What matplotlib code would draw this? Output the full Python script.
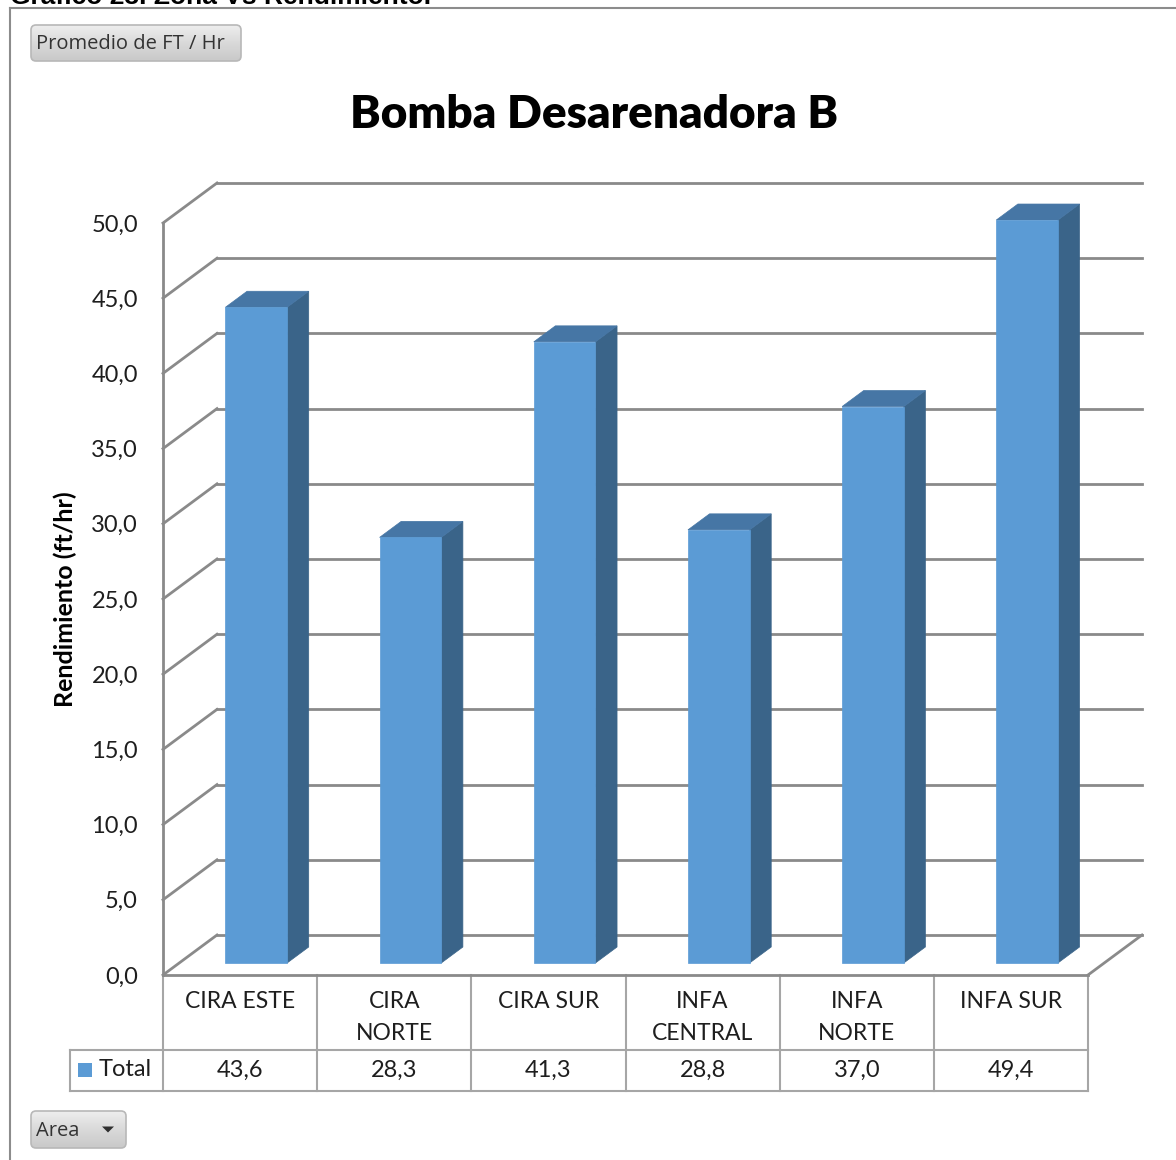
import textwrap
import numpy as np
import matplotlib.pyplot as plt
from matplotlib.colors import LinearSegmentedColormap
from matplotlib.patches import Polygon, FancyBboxPatch, Rectangle
from matplotlib.transforms import blended_transform_factory

plt.rcParams['font.family'] = ['Lato', 'DejaVu Sans']

# datos de la tabla dinámica
zonas = ['CIRA ESTE', 'CIRA NORTE', 'CIRA SUR', 'INFA CENTRAL', 'INFA NORTE', 'INFA SUR']
rendimiento = [43.6, 28.3, 41.3, 28.8, 37.0, 49.4]
ticks_y = [0, 5, 10, 15, 20, 25, 30, 35, 40, 45, 50]

c_frente = '#5b9bd5'
c_lado = '#3a6489'
c_tapa = '#4676a5'
c_grid = '#8a8a8a'
c_tabla = '#a6a6a6'
c_texto = '#1e1e1e'

W, H = 1176, 1160
fig = plt.figure(figsize=(W / 100, H / 100), dpi=100)

# capa de fondo en pixeles (y hacia abajo)
bg = fig.add_axes([0, 0, 1, 1])
bg.set_xlim(0, W)
bg.set_ylim(H, 0)
bg.axis('off')

# plano frontal del grafico 3d
x0px, x1px, y0px, y1px = 163, 1088, 975, 223
ax = fig.add_axes([x0px / W, (H - y0px) / H, (x1px - x0px) / W, (y0px - y1px) / H])
ax.set_xlim(0, len(zonas))
ax.set_ylim(0, 50)
ax.patch.set_alpha(0)

# desplazamiento de profundidad en unidades de datos
ddx = 54 / ((x1px - x0px) / len(zonas))
ddy = 40 / ((y0px - y1px) / 50)


def proy(x, v, d):
    return (x + d * ddx, v + d * ddy)


# pared del fondo y pared izquierda
n = len(zonas)
for v in ticks_y:
    a = proy(0, v, 1)
    b = proy(n, v, 1)
    ax.plot([a[0], b[0]], [a[1], b[1]], color=c_grid, lw=2, clip_on=False, zorder=1)
    c = proy(0, v, 0)
    ax.plot([c[0], a[0]], [c[1], a[1]], color=c_grid, lw=2, clip_on=False, zorder=1)
# borde derecho del piso
a, b = proy(n, 0, 0), proy(n, 0, 1)
ax.plot([a[0], b[0]], [a[1], b[1]], color=c_grid, lw=2, clip_on=False, zorder=1)

# barras 3d
for i, val in enumerate(rendimiento):
    xa, xb = i + 0.3, i + 0.7
    da, db = 0.3, 0.7
    frente = [proy(xa, 0, da), proy(xb, 0, da), proy(xb, val, da), proy(xa, val, da)]
    lado = [proy(xb, 0, da), proy(xb, 0, db), proy(xb, val, db), proy(xb, val, da)]
    tapa = [proy(xa, val, da), proy(xb, val, da), proy(xb, val, db), proy(xa, val, db)]
    for pts, col in [(lado, c_lado), (tapa, c_tapa), (frente, c_frente)]:
        ax.add_patch(Polygon(pts, closed=True, facecolor=col, edgecolor=col,
                             lw=0.5, clip_on=False, zorder=3))

# eje vertical
ax.set_xticks([])
ax.set_yticks(ticks_y)
ax.set_yticklabels([f'{t:.1f}'.replace('.', ',') for t in ticks_y], fontsize=17, color=c_texto)
ax.tick_params(axis='y', length=0, pad=18)
for s in ['top', 'right']:
    ax.spines[s].set_visible(False)
for s in ['left', 'bottom']:
    ax.spines[s].set_color(c_grid)
    ax.spines[s].set_linewidth(2)
ax.set_ylabel('Rendimiento (ft/hr)', fontsize=18, fontweight='bold')
ax.yaxis.set_label_coords(-86 / (x1px - x0px), 0.5)

# titulo
fig.text(594 / W, 1 - 114 / H, 'Bomba Desarenadora B', ha='center', va='center',
         fontsize=33, fontweight='heavy', color='black')

# tabla de datos
tr = blended_transform_factory(ax.transData, bg.transData)
fila1, fila2, fila3 = y0px, 1050, 1091
for k in range(n + 1):
    bg.plot([k, k], [fila1, fila3], color=c_tabla, lw=1.5, transform=tr, zorder=2)
bg.plot([70, x1px], [fila2, fila2], color=c_tabla, lw=1.5, zorder=2)
bg.plot([70, x1px], [fila3, fila3], color=c_tabla, lw=1.5, zorder=2)
bg.plot([70, 70], [fila2, fila3], color=c_tabla, lw=1.5, zorder=2)

for i, (z, val) in enumerate(zip(zonas, rendimiento)):
    for j, linea in enumerate(textwrap.wrap(z, 9)):
        bg.text(i + 0.5, 1001 + 32 * j, linea, transform=tr, ha='center', va='center',
                fontsize=16.5, color=c_texto)
    bg.text(i + 0.5, 1070, f'{val:.1f}'.replace('.', ','), transform=tr,
            ha='center', va='center', fontsize=17, color=c_texto)
bg.add_patch(Rectangle((78, 1063), 14, 14, facecolor=c_frente, edgecolor='none'))
bg.text(99, 1070, 'Total', ha='left', va='center', fontsize=17, color=c_texto)

# marco del area de grafico y titulo cortado arriba
bg.plot([10, W], [8, 8], color='#8c8c8c', lw=1.5)
bg.plot([10, 10], [8, H], color='#8c8c8c', lw=1.5)
bg.text(10, 4.5, 'Gráfico 23. Zona Vs Rendimiento.', ha='left', va='baseline',
        fontsize=19, fontweight='bold', family='Liberation Sans', color='black')

# botones de la tabla dinamica
grad = np.linspace(0, 1, 64).reshape(-1, 1)
gris = LinearSegmentedColormap.from_list('boton', ['#eeeeee', '#d9d9d9', '#c9c9c9'])


def boton(x, y, w, h, texto, flecha=False):
    caja = FancyBboxPatch((x, y), w, h, boxstyle='round,pad=0,rounding_size=5',
                          facecolor='none', edgecolor='#b8b8b8', lw=1.2, zorder=6)
    bg.add_patch(caja)
    im = bg.imshow(grad, extent=(x, x + w, y + h, y), cmap=gris, aspect='auto', zorder=5)
    im.set_clip_path(caja)
    bg.text(x + 5, y + h / 2 + 1, texto, ha='left', va='center', fontsize=14.5,
            family=['Open Sans', 'DejaVu Sans'], color='#333333', zorder=7)
    if flecha:
        bg.add_patch(Polygon([(x + w - 24, y + h / 2 - 3), (x + w - 12, y + h / 2 - 3),
                              (x + w - 18, y + h / 2 + 3)], closed=True,
                             facecolor='#303030', edgecolor='none', zorder=7))


boton(31, 25, 210, 36, 'Promedio de FT / Hr')
boton(31, 1111, 95, 37, 'Area', flecha=True)
bg.set_xlim(0, W)
bg.set_ylim(H, 0)

fig.savefig('out.png', dpi=100)
